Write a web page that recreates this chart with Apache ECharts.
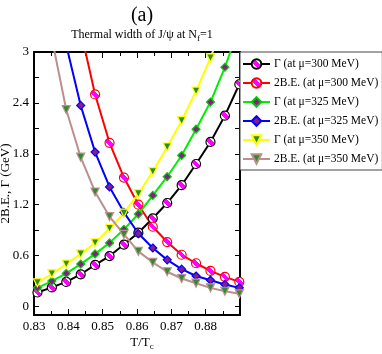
<!DOCTYPE html>
<html>
<head>
<meta charset="utf-8">
<script src="https://cdn.jsdelivr.net/npm/echarts@6/dist/echarts.min.js"></script>
<style>
  html, body { margin: 0; padding: 0; background: #fff; }
  #chart { width: 382px; height: 354px; }
</style>
</head>
<body>
<div id="chart"></div>
<script>
// T/Tc sample points
var tRatio = [0.8310, 0.8352, 0.8394, 0.8436, 0.8478, 0.8520, 0.8562, 0.8604, 0.8646, 0.8688, 0.8730, 0.8772, 0.8814, 0.8856, 0.8898];

// widths and binding energies (GeV)
var gamma300 = [0.165, 0.225, 0.29, 0.38, 0.49, 0.595, 0.73, 0.87, 1.04, 1.22, 1.43, 1.68, 1.94, 2.25, 2.62];
var be300    = [null, null, null, 3.25, 2.50, 1.93, 1.52, 1.20, 0.94, 0.76, 0.61, 0.51, 0.42, 0.35, 0.29];
var gamma325 = [0.22, 0.30, 0.39, 0.50, 0.62, 0.75, 0.91, 1.09, 1.31, 1.53, 1.78, 2.09, 2.41, 2.82, 3.3];
var be325    = [null, null, 3.08, 2.37, 1.82, 1.41, 1.11, 0.86, 0.69, 0.55, 0.44, 0.36, 0.31, 0.26, 0.22];
var gamma350 = [0.28, 0.385, 0.50, 0.62, 0.75, 0.92, 1.10, 1.33, 1.59, 1.88, 2.19, 2.54, 2.93, 3.4, 3.9];
var be350    = [null, 3.16, 2.32, 1.76, 1.35, 1.06, 0.85, 0.65, 0.52, 0.41, 0.33, 0.275, 0.22, 0.18, 0.15];

var seriesNames = ['Γ (at μ=300 MeV)', '2B.E. (at μ=300 MeV)', 'Γ (at μ=325 MeV)',
                   '2B.E. (at μ=325 MeV)', 'Γ (at μ=350 MeV)', '2B.E. (at μ=350 MeV)'];

var yTicks = [0, 0.3, 0.6, 0.9, 1.2, 1.5, 1.8, 2.1, 2.4, 2.7, 3];
var yLabels = [0, 0.6, 1.2, 1.8, 2.4, 3];

var FONT = 'Liberation Serif';

function pairs(ys) {
  return tRatio.map(function (x, i) { return [x, ys[i]]; });
}

// white circle with a magenta diagonal stripe
var stripe = new echarts.graphic.LinearGradient(0, 1, 1, 0, [
  { offset: 0, color: '#ffffff' }, { offset: 0.36, color: '#ffffff' },
  { offset: 0.36, color: '#ff00ff' }, { offset: 0.64, color: '#ff00ff' },
  { offset: 0.64, color: '#ffffff' }, { offset: 1, color: '#ffffff' }
]);

function makeSeries(name, ys, lineColor, symbol, size, fill, border) {
  return {
    name: name,
    type: 'line',
    data: pairs(ys),
    symbol: symbol,
    symbolSize: size,
    showAllSymbol: true,
    clip: true,
    lineStyle: { color: lineColor, width: 2 },
    itemStyle: { color: fill, borderColor: border, borderWidth: 1.2 },
    emphasis: { disabled: true },
    z: 3
  };
}

var chart = echarts.init(document.getElementById('chart'));

var axisCommon = {
  axisLine: { onZero: false, lineStyle: { color: '#000', width: 2 } },
  splitLine: { show: false }
};

var option = {
  animation: false,
  backgroundColor: '#fff',
  title: [{
    text: '(a)',
    left: 137, top: 1, textAlign: 'center',
    textStyle: { fontFamily: FONT, fontSize: 20, fontWeight: 'normal', color: '#000' }
  }, {
    text: 'Thermal width of J/ψ at N{s|f}=1',
    left: 137, top: 21, textAlign: 'center',
    textStyle: {
      fontFamily: FONT, fontSize: 12, fontWeight: 'normal', color: '#000',
      rich: { s: { fontFamily: FONT, fontSize: 9, verticalAlign: 'bottom', padding: [8, 0, 0, 0], color: '#000' } }
    }
  }, {
    text: 'T/T{s|c}',
    left: 137, top: 329, textAlign: 'center',
    textStyle: {
      fontFamily: FONT, fontSize: 13, fontWeight: 'normal', color: '#000',
      rich: { s: { fontFamily: FONT, fontSize: 9, padding: [8, 0, 0, 0], color: '#000' } }
    }
  }],
  grid: { left: 34, top: 52, right: 142, bottom: 39, containLabel: false, outerBoundsMode: 'none' },
  legend: {
    orient: 'vertical',
    left: 240, top: 52,
    width: 138,
    padding: [6, 4, 5, 2],
    itemGap: 7,
    itemWidth: 27,
    itemHeight: 12,
    borderColor: '#444',
    borderWidth: 1,
    backgroundColor: '#fff',
    textStyle: { fontFamily: FONT, fontSize: 11.5, color: '#000', padding: [0, 0, 0, -1] },
    data: seriesNames
  },
  xAxis: [Object.assign({
    type: 'value', min: 0.83, max: 0.89, interval: 0.01,
    position: 'bottom',
    name: '',
    axisTick: { inside: true, length: 6, lineStyle: { color: '#000', width: 1 } },
    minorTick: { show: true, splitNumber: 2, length: 4, lineStyle: { color: '#000' } },
    axisLabel: {
      showMaxLabel: false, margin: 5,
      fontFamily: FONT, fontSize: 13, color: '#000',
      formatter: function (v) { return v.toFixed(2); }
    }
  }, axisCommon), Object.assign({
    type: 'value', min: 0.83, max: 0.89, interval: 0.01,
    position: 'top',
    axisTick: { inside: true, length: 6, lineStyle: { color: '#000', width: 1 } },
    minorTick: { show: true, splitNumber: 2, length: 4, lineStyle: { color: '#000' } },
    axisLabel: { show: false }
  }, axisCommon)],
  yAxis: [Object.assign({
    type: 'value', min: -0.1, max: 3,
    position: 'left',
    name: '2B.E., Γ (GeV)',
    nameLocation: 'middle',
    nameGap: 22,
    nameRotate: 90,
    nameMoveOverlap: false,
    nameTextStyle: { fontFamily: FONT, fontSize: 13, color: '#000' },
    axisTick: { inside: true, length: 5, customValues: yTicks, lineStyle: { color: '#000', width: 1 } },
    axisLabel: { customValues: yLabels, margin: 5, fontFamily: FONT, fontSize: 13, color: '#000' }
  }, axisCommon), Object.assign({
    type: 'value', min: -0.1, max: 3,
    position: 'right',
    axisTick: { inside: true, length: 5, customValues: yTicks, lineStyle: { color: '#000', width: 1 } },
    axisLabel: { show: false }
  }, axisCommon)],
  series: [
    makeSeries(seriesNames[0], gamma300, '#000000', 'circle', 9, stripe, '#000000'),
    makeSeries(seriesNames[1], be300, '#ff0000', 'circle', 9, stripe, '#ff0000'),
    makeSeries(seriesNames[2], gamma325, '#00ee00', 'diamond', 8, '#8b1a8b', '#00cc00'),
    makeSeries(seriesNames[3], be325, '#0000ff', 'diamond', 8, '#8b1a8b', '#0000ff'),
    makeSeries(seriesNames[4], gamma350, '#ffff00', 'triangle', 8, '#2e8b2e', '#ffff00'),
    makeSeries(seriesNames[5], be350, '#bc8f8f', 'triangle', 8, '#2e8b2e', '#bc8f8f')
  ]
};

// inverted triangles
option.series[4].symbolRotate = 180;
option.series[5].symbolRotate = 180;

chart.setOption(option);
</script>
</body>
</html>
